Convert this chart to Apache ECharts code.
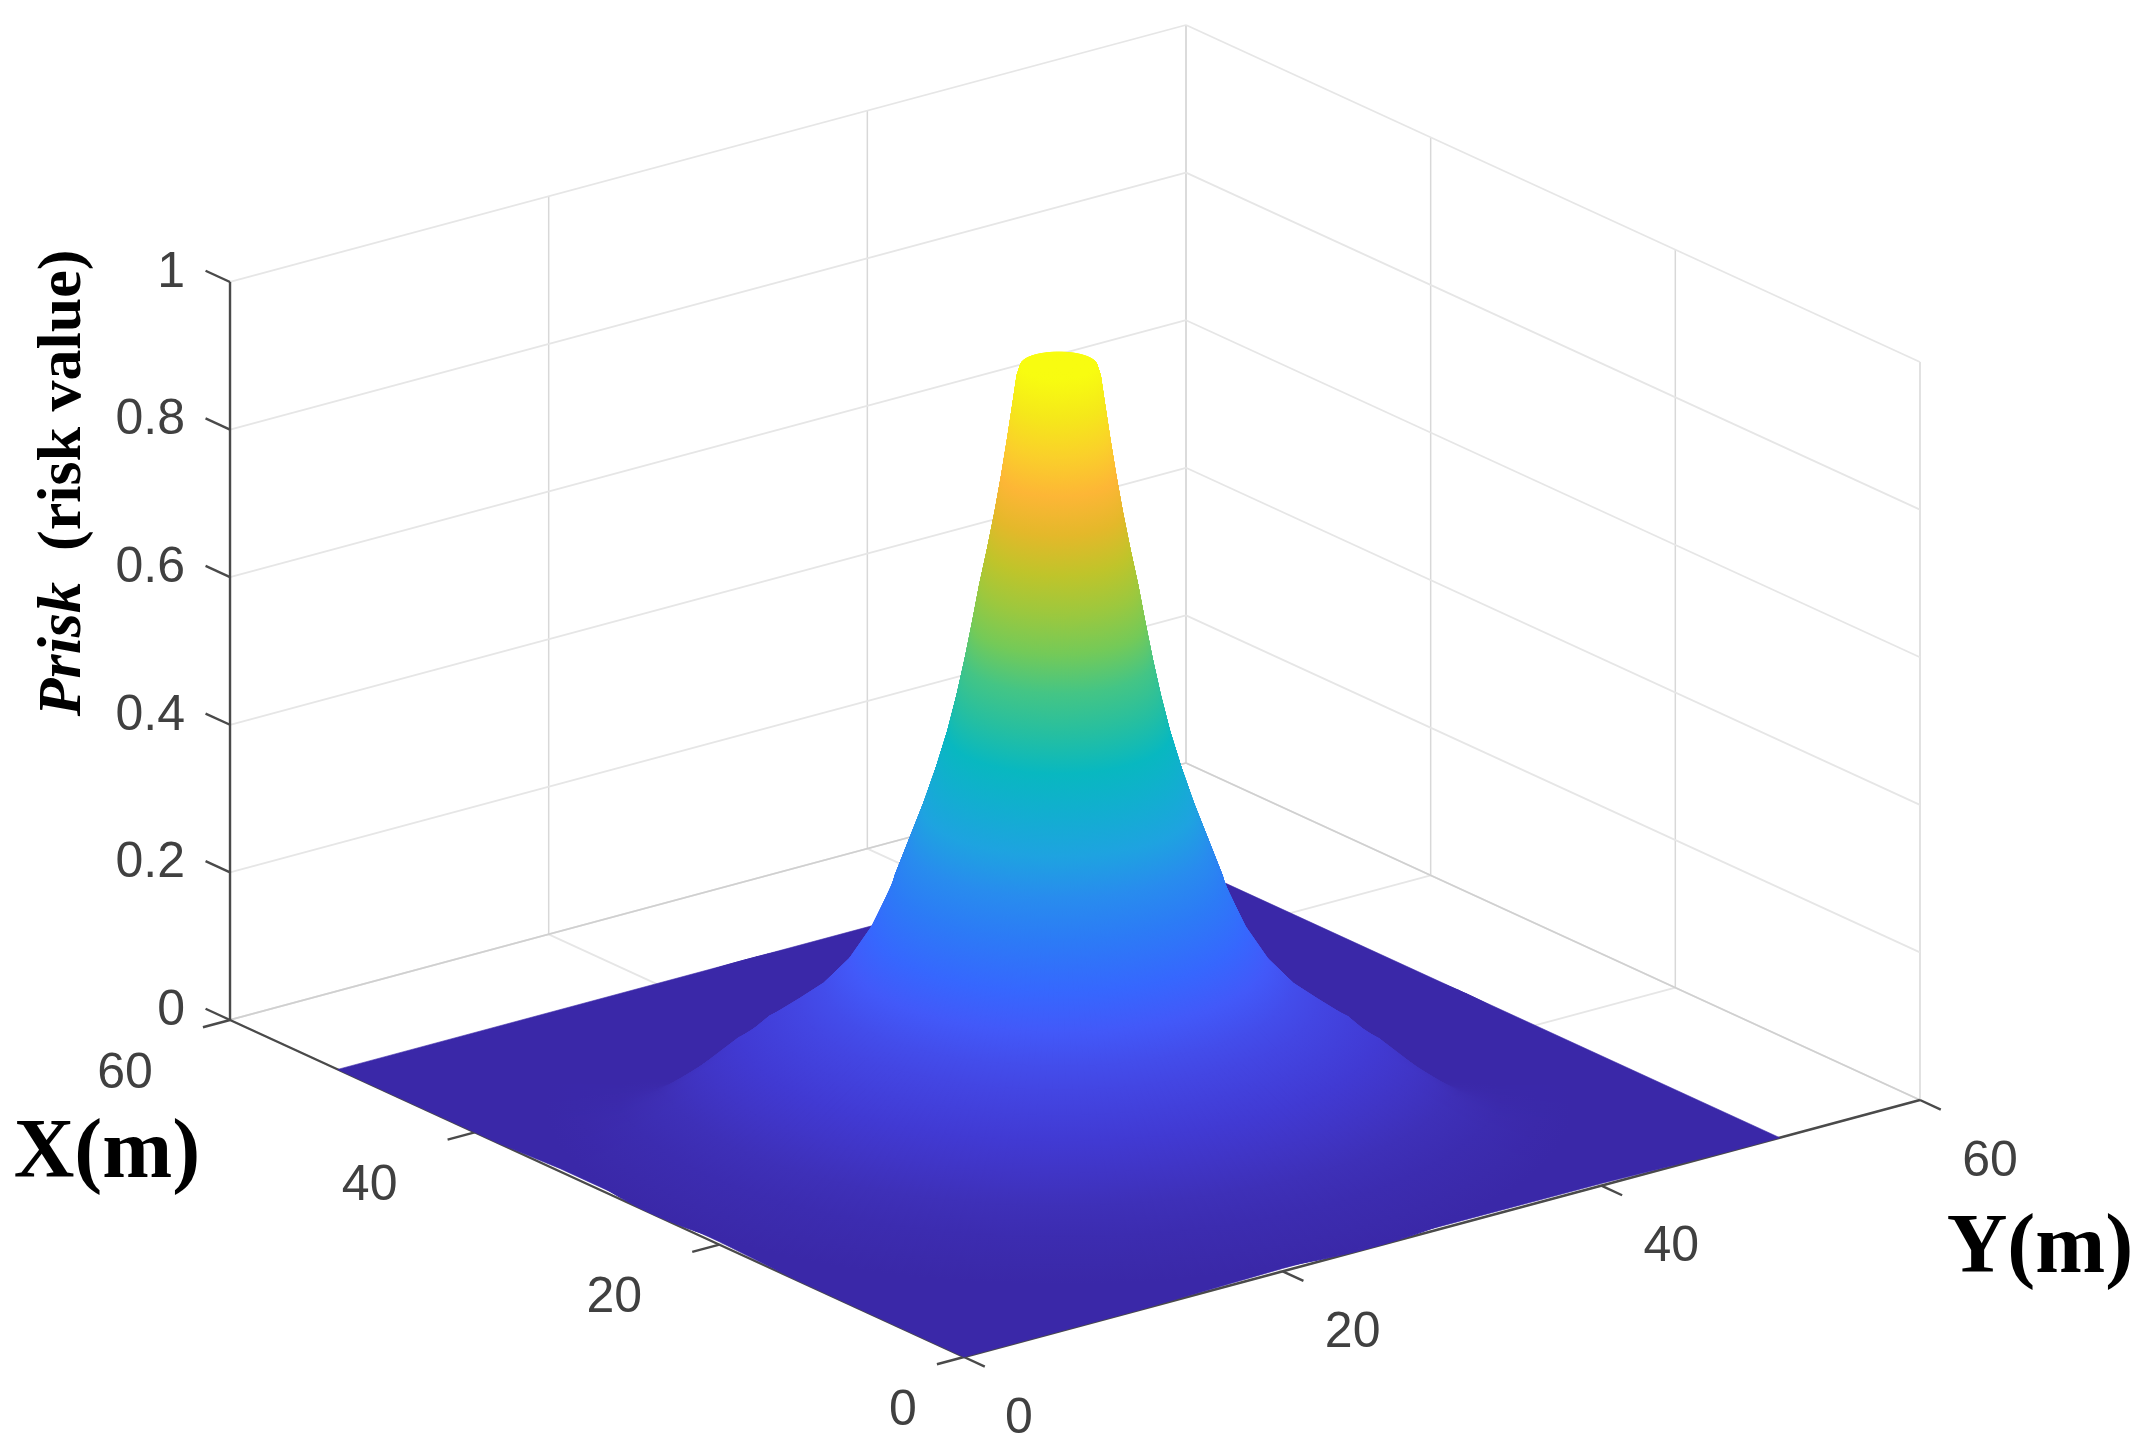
<!DOCTYPE html>
<html>
<head>
<meta charset="utf-8">
<style>html,body{margin:0;padding:0;background:#fff}#chart{width:2151px;height:1456px}</style>
<script src="https://cdn.jsdelivr.net/npm/echarts@6/dist/echarts.min.js"></script>
</head>
<body>
<div id="chart"></div>
<script>
// ---- values ----
const xTicks = [0, 20, 40, 60];
const yTicks = [0, 20, 40, 60];
const zTicks = [0, 0.2, 0.4, 0.6, 0.8, 1];
const zTickLabels = ['0', '0.2', '0.4', '0.6', '0.8', '1'];
const peakCentre = 25.6;    // peak position in X and Y
// outline of the flat part of the surface: X, Y, height
const plateOutline = [[0, 0, 0], [14, 0, 0], [20, 0, 0.004], [33, 0, 0.004], [38, 0, 0], [51.2, 0, 0], [51.2, 51.2, 0], [0, 51.2, 0], [0, 48, 0], [0, 40, 0.003], [0, 20, 0.004], [0, 11, 0]];
// radial profile of the surface, read from the silhouette of the peak
const radiusM = [0, 1.9, 2.08, 2.27, 2.55, 2.85, 3.18, 3.55, 3.95, 4.3, 4.67, 5.08, 5.55, 6.12, 6.76, 7.48, 8.2, 9.3, 10.4, 11.7, 12.9, 14.4, 16, 18, 20, 22, 24, 25.6];
const riskValue = [1, 1, 0.985, 0.95, 0.9, 0.85, 0.8, 0.75, 0.7, 0.65, 0.6, 0.55, 0.5, 0.45, 0.4, 0.35, 0.3, 0.24, 0.197, 0.163, 0.142, 0.122, 0.102, 0.078, 0.053, 0.03, 0.012, 0];
// the foot of the peak is absent on the far side; per ring, how wide the fade is (0 = no fade) and how far it starts towards the viewer
const farFadeWidth = [0, 0, 0, 0, 0, 0, 0, 0, 0, 0, 0, 0, 0, 0, 0, 0, 0, 0.35, 0.2, 0.14, 0.14, 0.25, 0.3, 0.4, 0.5, 0.6, 0.8, 1];
const farFadeShift = [0, 0, 0, 0, 0, 0, 0, 0, 0, 0, 0, 0, 0, 0, 0, 0, 0, 0, 0, 0, 0, 0.03, 0.1, 0.2, 0.3, 0.4, 0.5, 0.6];
// colour ramp: equal steps of 0.05 in risk value
const palette = ['#3a28a8','#3e2fb6','#4139d2','#4348e6','#425afa','#336aff','#2c7bf6','#288cee','#1ea3e0','#12aed0','#08b8c0','#26bfa0','#44c585','#74ca58','#9cc83e','#c0c42a','#e4b82a','#fdb636','#fad02a','#f5e81a','#f8fc10'];

// ---- view of the box (orthographic, pixels per unit) ----
const W = 2151, H = 1456;
const origin = [964, 1357], xUnit = [-12.233, -5.617], yUnit = [15.933, -4.283], zUnit = -738;
const project = (X, Y, Z) => [origin[0] + X * xUnit[0] + Y * yUnit[0], origin[1] + X * xUnit[1] + Y * yUnit[1] + Z * zUnit];
const depth = (X, Y) => 15.933 * X + 12.233 * Y;
const SECTORS = 240;
const TICK = 1.7, TICKZ = 2;
const AXIS = '#4a4a4a', LABEL = '#404040', GRID = '#e6e6e6', GRIDBASE = '#d0d0d0', GRIDV = '#d8d8d8';
const FONT = '50px "Liberation Sans", Arial, sans-serif';

const backness = a => 0.793 * Math.cos(a) + 0.609 * Math.sin(a);
const ringHeight = (i, a) => {
  if (!farFadeWidth[i]) return riskValue[i];
  const t = Math.min(1, Math.max(0, (backness(a) + farFadeShift[i]) / farFadeWidth[i]));
  return riskValue[i] * (1 - t * t * (3 - 2 * t));
};
const ground = (r, a) => [peakCentre + r * Math.cos(a), peakCentre + r * Math.sin(a)];

// ---- marks built from the arrays ----
const wallLines = [];
const addLine = (a, b, color, w) => wallLines.push([...a, ...b, color, w]);
const xMax = xTicks[xTicks.length - 1], yMax = yTicks[yTicks.length - 1], zMax = zTicks[zTicks.length - 1];
xTicks.forEach(v => {
  addLine([v, 0, 0], [v, yMax, 0], GRID, 1.8);
  addLine([v, yMax, 0], [v, yMax, zMax], GRIDV, 1.5);
});
yTicks.forEach(v => {
  addLine([0, v, 0], [xMax, v, 0], GRID, 1.8);
  addLine([xMax, v, 0], [xMax, v, zMax], GRIDV, 1.5);
});
zTicks.forEach(v => {
  const c = v === 0 ? GRIDBASE : GRID;
  addLine([xMax, 0, v], [xMax, yMax, v], c, 1.8);
  addLine([xMax, yMax, v], [0, yMax, v], c, 1.8);
});

const axisLines = [];
const addAxis = (a, b) => axisLines.push([...a, ...b, AXIS, 2.4]);
addAxis([0, 0, 0], [xMax, 0, 0]);
addAxis([0, 0, 0], [0, yMax, 0]);
addAxis([xMax, 0, 0], [xMax, 0, zMax]);
xTicks.forEach(v => addAxis([v, 0, 0], [v, -TICK, 0]));
yTicks.forEach(v => addAxis([0, v, 0], [-TICK, v, 0]));
zTicks.forEach(v => addAxis([xMax, 0, v], [xMax + TICKZ, 0, v]));

const cells = [];
for (let i = 0; i + 1 < radiusM.length; i++) {
  for (let s = 0; s < SECTORS; s++) {
    const a0 = s / SECTORS * 2 * Math.PI, a1 = (s + 1) / SECTORS * 2 * Math.PI;
    const g = ground((radiusM[i] + radiusM[i + 1]) / 2, (a0 + a1) / 2);
    cells.push([i, a0, a1, depth(g[0], g[1])]);
  }
}
cells.sort((p, q) => q[3] - p[3]);

const tickLabels = [];
xTicks.forEach(v => tickLabels.push([...project(v, 0, 0), v === 0 ? -61 : -105, 54, String(v), 'center']));
yTicks.forEach(v => tickLabels.push([...project(0, v, 0), v === 0 ? 55 : 70, 62, String(v), 'center']));
zTicks.forEach((v, i) => tickLabels.push([...project(xMax, 0, v), -45, -9, zTickLabels[i], 'right']));

// ---- drawing ----
const colorAt = z => echarts.color.lerp(Math.min(1, Math.max(0, z)), palette);
const toPx = (api, p) => api.coord(p);

function renderLine(params, api) {
  const a = toPx(api, project(api.value(0), api.value(1), api.value(2)));
  const b = toPx(api, project(api.value(3), api.value(4), api.value(5)));
  return { type: 'line', shape: { x1: a[0], y1: a[1], x2: b[0], y2: b[1] },
    style: { stroke: api.value(6), lineWidth: api.value(7), fill: null }, silent: true };
}
function renderPlate(params, api) {
  const pts = plateOutline.map(c => toPx(api, project(c[0], c[1], c[2])));
  return { type: 'polygon', shape: { points: pts }, style: { fill: palette[0], stroke: palette[0], lineWidth: 0.6 }, silent: true };
}
function renderCell(params, api) {
  const i = api.value(0), a0 = api.value(1), a1 = api.value(2);
  const pt = (k, a) => { const g = ground(radiusM[k], a); return toPx(api, project(g[0], g[1], ringHeight(k, a))); };
  const am = (a0 + a1) / 2;
  const inner = pt(i, am), outer = pt(i + 1, am);
  const grad = new echarts.graphic.LinearGradient(inner[0], inner[1], outer[0], outer[1],
    [{ offset: 0, color: colorAt(ringHeight(i, am)) }, { offset: 1, color: colorAt(ringHeight(i + 1, am)) }], true);
  return { type: 'polygon', shape: { points: [pt(i, a0), pt(i + 1, a0), pt(i + 1, a1), pt(i, a1)] },
    style: { fill: grad, stroke: grad, lineWidth: 1 }, silent: true };
}
function renderLabel(params, api) {
  const p = toPx(api, [api.value(0), api.value(1)]);
  return { type: 'text', silent: true,
    style: { x: p[0] + api.value(2), y: p[1] + api.value(3), text: String(api.value(4)), font: FONT, fill: LABEL,
      align: api.value(5), verticalAlign: 'middle' } };
}
const base = { type: 'custom', coordinateSystem: 'cartesian2d', clip: false, animation: false, progressive: 0, silent: true };

const chart = echarts.init(document.getElementById('chart'), null, { renderer: 'canvas' });
chart.setOption({
  backgroundColor: '#ffffff',
  animation: false,
  grid: { left: 0, right: 0, top: 0, bottom: 0 },
  xAxis: { type: 'value', min: 0, max: W, show: false },
  yAxis: { type: 'value', min: 0, max: H, inverse: true, show: false },
  series: [
    Object.assign({}, base, { name: 'walls', renderItem: renderLine, data: wallLines, encode: { x: 0, y: 1 }, z: 1 }),
    Object.assign({}, base, { name: 'axes', renderItem: renderLine, data: axisLines, encode: { x: 0, y: 1 }, z: 2 }),
    Object.assign({}, base, { name: 'plate', renderItem: renderPlate, data: [[0]], encode: { x: 0 }, z: 3 }),
    Object.assign({}, base, { name: 'risk surface', renderItem: renderCell, data: cells, encode: { x: 0, y: 1 }, z: 4 }),
    Object.assign({}, base, { name: 'tick labels', renderItem: renderLabel, dimensions: ['x','y','dx','dy',{name:'t',type:'ordinal'},{name:'a',type:'ordinal'}], data: tickLabels, encode: { x: 0, y: 1 }, z: 5 })
  ],
  graphic: { elements: [
    { type: 'text', x: 107, y: 1155, silent: true, style: { text: 'X(m)', font: 'bold 84px "Liberation Serif", serif', fill: '#000', align: 'center', verticalAlign: 'middle' } },
    { type: 'text', x: 2040, y: 1250, silent: true, style: { text: 'Y(m)', font: 'bold 84px "Liberation Serif", serif', fill: '#000', align: 'center', verticalAlign: 'middle' } },
    { type: 'text', x: 64, y: 483, rotation: Math.PI / 2, silent: true, style: {
        text: '{a|Prisk}{b|  (risk value)}', align: 'center', verticalAlign: 'middle', fill: '#000',
        rich: { a: { font: 'italic bold 62px "Liberation Serif", serif', fill: '#000' }, b: { font: 'bold 62px "Liberation Serif", serif', fill: '#000' } } } }
  ] }
});
</script>
</body>
</html>
